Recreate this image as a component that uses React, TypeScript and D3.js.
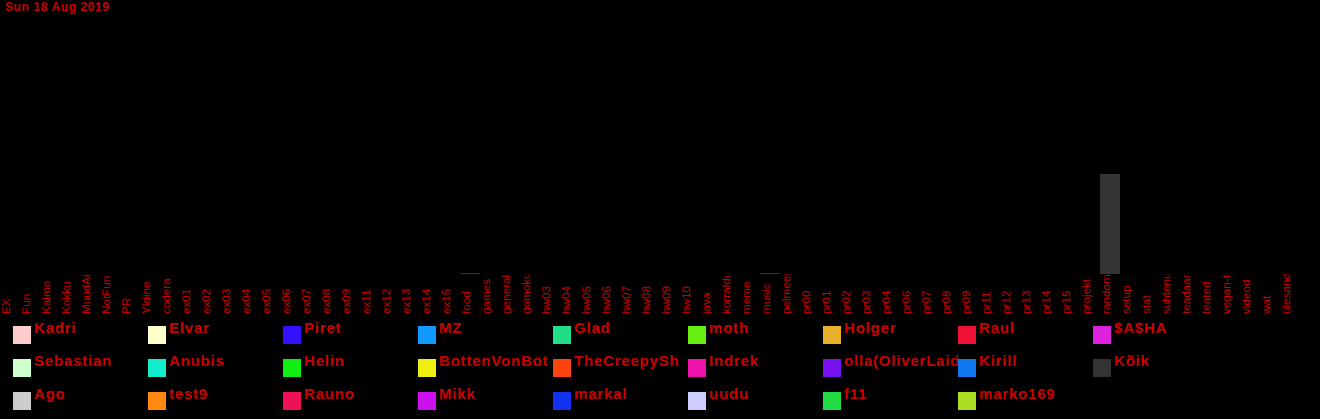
import React from "react";
import * as d3 from "d3";

const title = "Sun 18 Aug 2019";

const categories = [
  "EX", "Fun", "Kalmo", "Kokku", "MuudAi", "NotFun", "PR", "Yldine", "codera",
  "ex01", "ex02", "ex03", "ex04", "ex05", "ex06", "ex07", "ex08", "ex09", "ex11",
  "ex12", "ex13", "ex14", "ex15", "food", "games", "general", "gomoku", "hw03",
  "hw04", "hw05", "hw06", "hw07", "hw08", "hw09", "hw10", "java", "korraldus",
  "meme", "music", "pelmeenid", "pr00", "pr01", "pr02", "pr03", "pr04", "pr06",
  "pr07", "pr08", "pr09", "pr11", "pr12", "pr13", "pr14", "pr15", "projekt",
  "random", "setup", "stat", "suhtenurk", "teadaanded", "teated", "vegan-toit",
  "videod", "wat", "ülesanded",
];

const users = [
  "Kadri", "Elvar", "Piret", "MZ", "Glad", "moth", "Holger", "Raul", "$A$HA",
  "Sebastian", "Anubis", "Helin", "BottenVonBot", "TheCreepySh", "Indrek",
  "olla(OliverLaid", "Kirill", "Kõik",
  "Ago", "test9", "Rauno", "Mikk", "markal", "uudu", "f11", "marko169",
];

const userColors = [
  "#ffcccc", "#ffffcc", "#3311ff", "#1199ff", "#22dd88", "#66ee11", "#e6b02a", "#ee1133", "#dd22dd",
  "#ccffcc", "#11eecc", "#11ee11", "#eeee11", "#ff4411", "#ee11aa", "#7711ee", "#1177ee", "#333333",
  "#cccccc", "#ff8811", "#ee1155", "#cc11ee", "#1133ee", "#ccccff", "#22dd44", "#aadd22",
];

// Messages per category for the "Kõik" series (others are zero on this day)
const koikCategories = ["food", "music", "random"];
const koikValues = [1, 1, 100];

const yMax = 260;

const W = 1320;
const H = 419;
const RED = "#cc0000";

export default function App() {
  const x = d3.scaleBand<string>().domain(categories).range([0, categories.length * 20]).padding(0);
  const y = d3.scaleLinear().domain([0, yMax]).range([274, 14]);
  const koikColor = userColors[users.indexOf("Kõik")];

  const cols = 9;
  const colX = d3.scaleLinear().domain([0, 1]).range([13, 148]);
  const rowY = d3.scaleLinear().domain([0, 1]).range([326, 359]);

  return (
    <svg
      width={W}
      height={H}
      style={{ position: "fixed", left: 0, top: 0, background: "#000" }}
      fontFamily="'Liberation Sans', Arial, sans-serif"
    >
      <rect x={0} y={0} width={W} height={H} fill="#000" />
      <defs>
        <clipPath id="labelClip">
          <rect x={0} y={274.5} width={W} height={50} />
        </clipPath>
        {users.map((u, i) => {
          const c = i % cols;
          const r = Math.floor(i / cols);
          return (
            <clipPath id={`lg${i}`} key={u}>
              <rect x={colX(c) + 21} y={rowY(r) - 14} width={c === cols - 1 ? 300 : 114} height={30} />
            </clipPath>
          );
        })}
      </defs>

      <text x={5} y={11} fill={RED} fontSize={12} fontWeight="bold" letterSpacing={0.6}>
        {title}
      </text>

      {koikCategories.map((c, i) => (
        <rect
          key={c}
          x={x(c)}
          y={y(koikValues[i])}
          width={x.bandwidth()}
          height={y(0) - y(koikValues[i])}
          fill={koikColor}
        />
      ))}

      <g clipPath="url(#labelClip)">
        {categories.map((c) => (
          <text
            key={c}
            transform={`translate(${(x(c) as number) + 10},314) rotate(-90)`}
            fill={RED}
            fontSize={11.7}
          >
            {c}
          </text>
        ))}
      </g>

      {users.map((u, i) => {
        const c = i % cols;
        const r = Math.floor(i / cols);
        const sx = colX(c);
        const sy = rowY(r);
        return (
          <g key={u}>
            <rect x={sx} y={sy} width={18} height={18} fill={userColors[i]} />
            <text
              x={sx + 21}
              y={sy + 6.5}
              fill={RED}
              fontSize={15}
              fontWeight="bold"
              letterSpacing={0.8}
              clipPath={`url(#lg${i})`}
            >
              {u}
            </text>
          </g>
        );
      })}
    </svg>
  );
}
